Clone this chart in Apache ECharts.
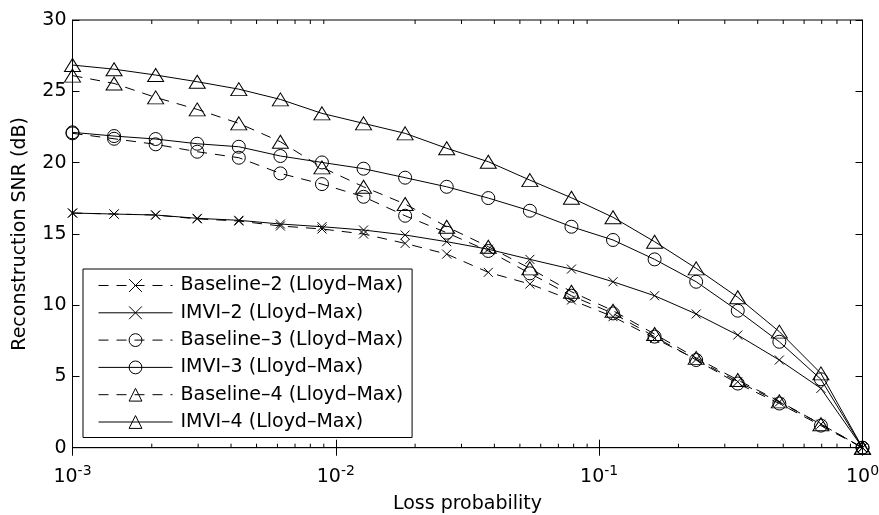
<!DOCTYPE html>
<html>
<head>
<meta charset="utf-8">
<script src="https://cdn.jsdelivr.net/npm/echarts@6/dist/echarts.min.js"></script>
<style>html,body{margin:0;padding:0;background:#fff}#c{width:879px;height:515px}</style>
</head>
<body>
<div id="c"></div>
<script>
// Loss probability sample points (x)
var lossProb = [0.001, 0.0014384, 0.0020691, 0.0029764, 0.0042813, 0.0061585, 0.0088587, 0.0127427, 0.0183298, 0.0263665,
  0.0379269, 0.0545559, 0.0784760, 0.1128838, 0.1623777, 0.2335721, 0.3359818, 0.4832930, 0.6951928, 1.0];
var baseline2 = [16.46, 16.39, 16.32, 16.05, 15.90, 15.55, 15.34, 14.99, 14.33, 13.58, 12.30, 11.48, 10.36, 9.19, 7.67, 6.20, 4.63, 3.20, 1.65, 0];
var imvi2     = [16.46, 16.39, 16.32, 16.09, 15.95, 15.69, 15.50, 15.27, 14.92, 14.45, 13.92, 13.21, 12.53, 11.64, 10.66, 9.38, 7.90, 6.15, 4.16, 0];
var baseline3 = [22.05, 21.67, 21.28, 20.76, 20.34, 19.24, 18.49, 17.60, 16.27, 15.08, 13.80, 12.23, 10.66, 9.42, 7.79, 6.15, 4.50, 3.10, 1.55, 0];
var imvi3     = [22.12, 21.86, 21.65, 21.32, 21.11, 20.46, 20.01, 19.57, 18.94, 18.30, 17.51, 16.62, 15.50, 14.57, 13.21, 11.64, 9.61, 7.43, 4.80, 0];
var baseline4 = [26.10, 25.55, 24.57, 23.73, 22.75, 21.46, 19.66, 18.30, 17.09, 15.50, 14.10, 12.58, 10.94, 9.61, 7.97, 6.30, 4.75, 3.25, 1.65, 0];
var imvi4     = [26.84, 26.55, 26.14, 25.67, 25.15, 24.43, 23.45, 22.75, 22.05, 21.00, 20.06, 18.77, 17.53, 16.16, 14.45, 12.58, 10.55, 8.14, 5.21, 0];
var seriesNames = ['Baseline–2 (Lloyd–Max)', 'IMVI–2 (Lloyd–Max)', 'Baseline–3 (Lloyd–Max)', 'IMVI–3 (Lloyd–Max)', 'Baseline–4 (Lloyd–Max)', 'IMVI–4 (Lloyd–Max)'];
var minorTickValues = [0.002,0.003,0.004,0.005,0.006,0.007,0.008,0.009,0.02,0.03,0.04,0.05,0.06,0.07,0.08,0.09,0.2,0.3,0.4,0.5,0.6,0.7,0.8,0.9];
var yTicks = {min: 0, max: 30, interval: 5};

var FONT = 'DejaVu Sans, Verdana, sans-serif';
var CROSS = 'path://M0,0L10,10M10,0L0,10';
var DASH = [10, 8];

function mk(name, data, symbol, size, dashed) {
  return {
    name: name, type: 'line', xAxisIndex: 0, yAxisIndex: 0,
    data: data.map(function (v, i) { return [lossProb[i], v]; }),
    symbol: symbol, symbolSize: size, showSymbol: true,
    lineStyle: {color: '#000', width: 1, type: dashed ? DASH : 'solid'},
    itemStyle: {color: 'rgba(0,0,0,0)', borderColor: '#000', borderWidth: 1},
    emphasis: {disabled: true},
    animation: false, z: 3
  };
}

var chart = echarts.init(document.getElementById('c'), null, {renderer: 'canvas'});
var xLabel = {
  fontFamily: FONT, fontSize: 19, color: '#000', margin: 17,
  formatter: function (v) { var e = Math.round(Math.log10(v)); return '{b|10}{s|' + (e < 0 ? '-' + (-e) : e) + '}'; },
  rich: {b: {fontFamily: FONT, fontSize: 19, color: '#000'}, s: {fontFamily: FONT, fontSize: 14, color: '#000', padding: [0, 0, 10, 0]}}
};
chart.setOption({
  backgroundColor: '#fff',
  animation: false,
  grid: {left: 72.5, right: 16.5, top: 20, bottom: 67.3, outerBoundsMode: 'none', containLabel: false,
    show: true, borderColor: '#000', borderWidth: 1, backgroundColor: '#fff'},
  xAxis: [{
    type: 'log', logBase: 10, min: 0.001, max: 1, position: 'bottom',
    name: 'Loss probability', nameLocation: 'middle', nameGap: 47,
    nameTextStyle: {fontFamily: FONT, fontSize: 19, color: '#000'},
    axisLine: {lineStyle: {color: '#000', width: 1}},
    axisTick: {inside: true, length: 8, lineStyle: {color: '#000'}},
    axisLabel: xLabel,
    splitLine: {show: false}
  }, {
    type: 'log', logBase: 10, min: 0.001, max: 1, position: 'top',
    axisLine: {lineStyle: {color: '#000', width: 1}},
    axisTick: {inside: true, length: 8, lineStyle: {color: '#000'}},
    axisLabel: {show: false}, splitLine: {show: false}
  }],
  yAxis: [{
    type: 'value', min: yTicks.min, max: yTicks.max, interval: yTicks.interval, position: 'left',
    name: 'Reconstruction SNR (dB)', nameLocation: 'middle', nameGap: 43,
    nameTextStyle: {fontFamily: FONT, fontSize: 19, color: '#000'},
    axisLine: {show: true, lineStyle: {color: '#000', width: 1}},
    axisTick: {show: true, inside: true, length: 7, lineStyle: {color: '#000'}},
    axisLabel: {fontFamily: FONT, fontSize: 19, color: '#000', margin: 6},
    splitLine: {show: false}
  }, {
    type: 'value', min: yTicks.min, max: yTicks.max, interval: yTicks.interval, position: 'right',
    axisLine: {show: true, lineStyle: {color: '#000', width: 1}},
    axisTick: {show: true, inside: true, length: 7, lineStyle: {color: '#000'}},
    axisLabel: {show: false}, splitLine: {show: false}
  }],
  legend: {
    data: seriesNames, orient: 'vertical', left: 83, top: 269,
    padding: [7, 9, 6, 15], itemWidth: 74, itemHeight: 16, itemGap: 8.3,
    backgroundColor: '#fff', borderColor: '#000', borderWidth: 1, borderRadius: 0,
    itemStyle: {color: 'rgba(0,0,0,0)', borderColor: '#000', borderWidth: 1},
    lineStyle: {width: 1},
    textStyle: {fontFamily: FONT, fontSize: 19, color: '#000', lineHeight: 16, padding: [0, 0, 0, 3]},
    selectedMode: false, z: 10
  },
  series: [
    mk(seriesNames[0], baseline2, CROSS, 9, true),
    mk(seriesNames[1], imvi2, CROSS, 9, false),
    mk(seriesNames[2], baseline3, 'circle', 13, true),
    mk(seriesNames[3], imvi3, 'circle', 13, false),
    mk(seriesNames[4], baseline4, 'triangle', [16, 13], true),
    mk(seriesNames[5], imvi4, 'triangle', [16, 13], false),
    {
      type: 'custom', name: 'minorTicks', xAxisIndex: 0, yAxisIndex: 0, silent: true, z: 2,
      data: minorTickValues.map(function (v) { return [v]; }),
      renderItem: function (params, api) {
        var b = api.coord([api.value(0), yTicks.min]);
        var t = api.coord([api.value(0), yTicks.max]);
        var s = {stroke: '#000', lineWidth: 1};
        return {type: 'group', children: [
          {type: 'line', shape: {x1: b[0], y1: b[1], x2: b[0], y2: b[1] - 4}, style: s},
          {type: 'line', shape: {x1: t[0], y1: t[1], x2: t[0], y2: t[1] + 4}, style: s}
        ]};
      }
    }
  ]
});
</script>
</body>
</html>
